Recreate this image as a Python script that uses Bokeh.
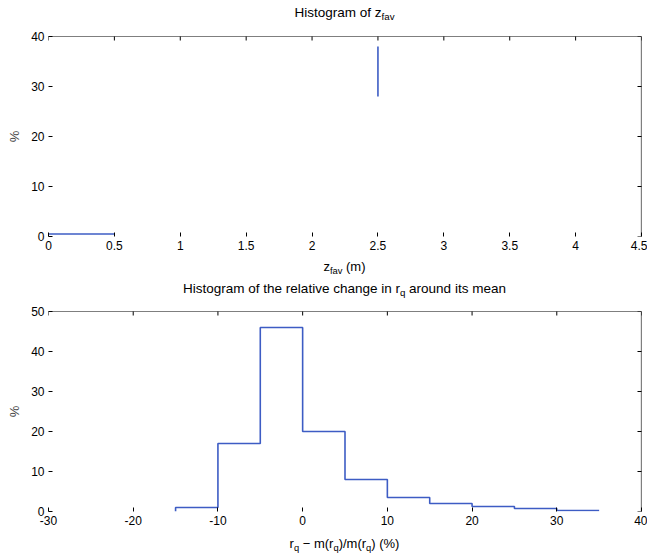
import numpy as np
from bokeh.plotting import figure
from bokeh.layouts import column
from bokeh.models import FixedTicker, Range1d, Span, Div
from bokeh.embed import file_html
from bokeh.resources import INLINE

# ---------------- data: top panel (histogram of z_fav) ----------------
z_ticks = [0, 0.5, 1, 1.5, 2, 2.5, 3, 3.5, 4, 4.5]
z_tick_labels = ["0", "0.5", "1", "1.5", "2", "2.5", "3", "3.5", "4", "4.5"]
z_count_ticks = [0, 10, 20, 30, 40]
# visible horizontal step piece
z_bin_left = [0.0]
z_bin_right = [0.5]
z_bin_level = [0.5]
# visible vertical step piece
z_edge = [2.5]
z_edge_low = [28.0]
z_edge_high = [38.0]

# ---------------- data: bottom panel (relative change in r_q) ----------------
rq_edges = [-15, -10, -5, 0, 5, 10, 15, 20, 25, 30, 35]
rq_pct = [1, 17, 46, 20, 8, 3.5, 2, 1.25, 0.75, 0.25]
rq_ticks = [-30, -20, -10, 0, 10, 20, 30, 40]
rq_tick_labels = ["-30", "-20", "-10", "0", "10", "20", "30", "40"]
pct_ticks = [0, 10, 20, 30, 40, 50]

LINE = "#3d5cc4"
FONT = "Liberation Sans"
SUB = '<sub style="font-size:72%;vertical-align:-0.3em;line-height:0">'


def text_div(html, h, size):
    return Div(text=html, width=593, height=h, margin=(0, 6, 0, 48),
               styles={"font-family": FONT, "font-size": f"{size}px",
                       "text-align": "center", "line-height": f"{h}px",
                       "color": "black", "white-space": "nowrap"})


def make_fig(h, top, bottom, xr, yr, xt, xtl, yt):
    p = figure(width=647, height=h, x_range=Range1d(*xr), y_range=Range1d(*yr),
               output_backend="svg", toolbar_location=None,
               min_border_left=48, min_border_right=6,
               min_border_top=top, min_border_bottom=bottom)
    p.xgrid.visible = False
    p.ygrid.visible = False
    p.outline_line_color = None
    p.background_fill_color = "white"
    p.border_fill_color = "white"
    xa, ya = p.below[0], p.left[0]
    xa.ticker = FixedTicker(ticks=xt)
    xa.major_label_overrides = dict(zip(xt, xtl))
    ya.ticker = FixedTicker(ticks=yt)
    for ax in (xa, ya):
        ax.axis_line_color = None
        ax.minor_tick_line_color = None
        ax.major_tick_in = 4
        ax.major_tick_out = 0
        ax.major_tick_line_color = "black"
        ax.major_label_text_font = FONT
        ax.major_label_text_font_size = "12px"
        ax.major_label_text_color = "black"
        ax.major_label_standoff = 4
    ya.axis_label = "%"
    ya.axis_label_text_font = FONT
    ya.axis_label_text_font_size = "13px"
    ya.axis_label_text_font_style = "normal"
    ya.axis_label_standoff = 6
    # box: top and right edges with inward ticks
    p.add_layout(Span(location=yr[1], dimension="width", line_color="black", line_width=1.2))
    p.add_layout(Span(location=xr[1], dimension="height", line_color="black", line_width=1.2))
    p.scatter(x=xt, y=[yr[1]] * len(xt), marker="dash", angle=np.pi / 2,
              size=8, line_color="black", line_width=1)
    p.scatter(x=[xr[1]] * len(yt), y=yt, marker="dash",
              size=8, line_color="black", line_width=1)
    return p


# ---------------- top figure ----------------
t1 = text_div("Histogram of z" + SUB + "fav</sub>", 26, 13.5)
p1 = make_fig(230, 10, 20, (0, 4.5), (0, 40), z_ticks, z_tick_labels, z_count_ticks)
p1.segment(x0=z_bin_left, y0=z_bin_level, x1=z_bin_right, y1=z_bin_level,
           line_color=LINE, line_width=1.6)
p1.segment(x0=z_edge, y0=z_edge_low, x1=z_edge, y1=z_edge_high,
           line_color=LINE, line_width=1.6)
x1 = text_div("z" + SUB + "fav</sub> (m)", 22, 13)

# ---------------- bottom figure ----------------
t2 = text_div("Histogram of the relative change in r" + SUB + "q</sub> around its mean", 22, 13.5)
p2 = make_fig(231, 11, 20, (-30, 40), (0, 50), rq_ticks, rq_tick_labels, pct_ticks)
sx = [rq_edges[0]]
sy = [0.0]
for i, c in enumerate(rq_pct):
    sx += [rq_edges[i], rq_edges[i + 1]]
    sy += [c, c]
p2.line(sx, sy, line_color=LINE, line_width=1.6)
x2 = text_div("r" + SUB + "q</sub> \u2212 m(r" + SUB + "q</sub>)/m(r" + SUB + "q</sub>) (%)", 25, 13)

layout = column(t1, p1, x1, t2, p2, x2, spacing=0)
open("out.html", "w").write(file_html(layout, INLINE))
